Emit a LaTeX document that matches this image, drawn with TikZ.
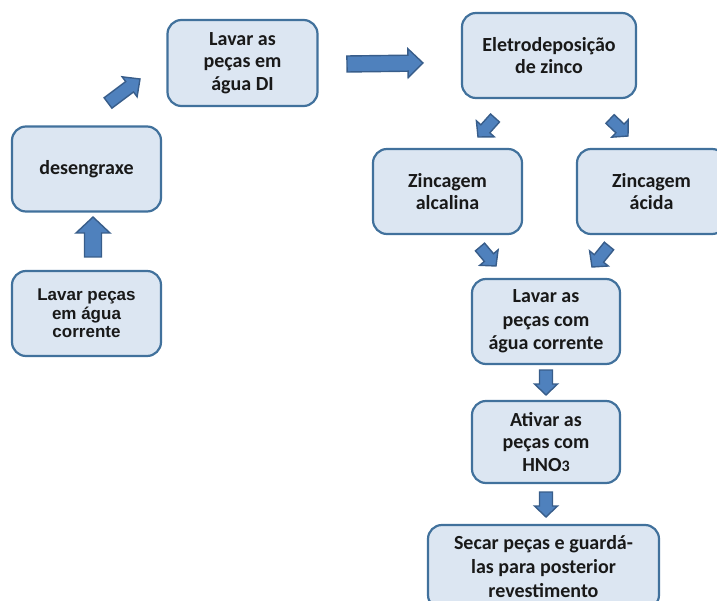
\documentclass[tikz,border=0pt]{standalone}
\usepackage{fontspec}
\setmainfont{Carlito}
\newfontfamily\arialfont{Liberation Sans}
\usetikzlibrary{calc}

\definecolor{boxfill}{HTML}{DCE6F2}
\definecolor{boxline}{HTML}{41719C}
\definecolor{arrowfill}{HTML}{4F81BD}
\definecolor{arrowline}{HTML}{385D8A}

% block arrow from #1 (tail) to #2 (tip);
% #3 shaft half width, #4 head half width, #5 head length
\newcommand\blockarrow[5]{%
  \coordinate (ba-h) at ($(#2)!#5!(#1)$);
  \draw[flow] ($(#1)!#3!90:(#2)$) -- ($(ba-h)!#3!-90:(#1)$)
    -- ($(ba-h)!#4!-90:(#1)$) -- (#2) -- ($(ba-h)!#4!90:(#1)$)
    -- ($(ba-h)!#3!90:(#1)$) -- ($(#1)!#3!-90:(#2)$) -- cycle;}

\begin{document}
\begin{tikzpicture}[x=1pt,y=-1pt,
  stepbox/.style={draw=boxline, fill=boxfill, line width=2.2pt,
    rounded corners=14pt, align=center, inner sep=0pt,
    font=\fontsize{20}{22.5}\selectfont\bfseries, text=black!90},
  arialbox/.style={stepbox, font=\arialfont\fontsize{17}{18.5}\selectfont\bfseries},
  flow/.style={fill=arrowfill, draw=arrowline, line width=1.4pt, line join=miter}]
\useasboundingbox (0,0) rectangle (717,601);

% process steps
\node[arialbox, minimum width=149pt, minimum height=85pt] (wash1) at (86.5,313.5)
  {Lavar peças\\em água\\corrente};
\node[stepbox, minimum width=149pt, minimum height=85pt] (degrease) at (86.5,169)
  {desengraxe};
\node[stepbox, minimum width=150pt, minimum height=86pt] (washdi) at (242.5,63)
  {Lavar as\\peças em\\água DI};
\node[stepbox, minimum width=174pt, minimum height=85pt] (electro) at (549,55.5)
  {Eletrodeposição\\de zinco};
\node[stepbox, minimum width=149pt, minimum height=85pt] (alkaline) at (447.5,191.5)
  {Zincagem\\alcalina};
\node[stepbox, minimum width=149pt, minimum height=85pt] (acid) at (651.5,191.5)
  {Zincagem\\ácida};
\node[stepbox, minimum width=148pt, minimum height=85pt,
  font=\fontsize{20}{23.5}\selectfont\bfseries] (wash2) at (546,321.5)
  {Lavar as\\peças com\\água corrente};
\node[stepbox, minimum width=148pt, minimum height=82pt] (activate) at (546,442)
  {Ativar as\\peças com\\HNO{\fontsize{16}{16}\selectfont 3}};
\node[stepbox, minimum width=231pt, minimum height=84pt,
  font=\fontsize{20}{24}\selectfont\bfseries] (dry) at (543.5,567)
  {Secar peças e guardá-\\las para posterior\\revestimento};

% arrow end points
\coordinate (a1s) at (93,257);   \coordinate (a1e) at (93,217);
\coordinate (a2s) at (108,103);  \coordinate (a2e) at (140,79);
\coordinate (a3s) at (347,64);   \coordinate (a3e) at (423,63);
\coordinate (a4s) at (495,118);  \coordinate (a4e) at (478,137);
\coordinate (a5s) at (610,119);  \coordinate (a5e) at (628,136);
\coordinate (a6s) at (480,247);  \coordinate (a6e) at (496,266);
\coordinate (a7s) at (609,246);  \coordinate (a7e) at (592,267);
\coordinate (a8s) at (546,370);  \coordinate (a8e) at (546,395);
\coordinate (a9s) at (546,492);  \coordinate (a9e) at (546,517);

\blockarrow{a1s}{a1e}{8.5pt}{17pt}{16pt}
\blockarrow{a2s}{a2e}{6.5pt}{12.5pt}{13pt}
\blockarrow{a3s}{a3e}{8pt}{14.5pt}{15pt}
\blockarrow{a4s}{a4e}{6pt}{12pt}{11pt}
\blockarrow{a5s}{a5e}{6pt}{12pt}{11pt}
\blockarrow{a6s}{a6e}{6pt}{12pt}{11pt}
\blockarrow{a7s}{a7e}{6pt}{12pt}{11pt}
\blockarrow{a8s}{a8e}{6.5pt}{11.5pt}{11pt}
\blockarrow{a9s}{a9e}{6.5pt}{11.5pt}{11pt}
\end{tikzpicture}
\end{document}
